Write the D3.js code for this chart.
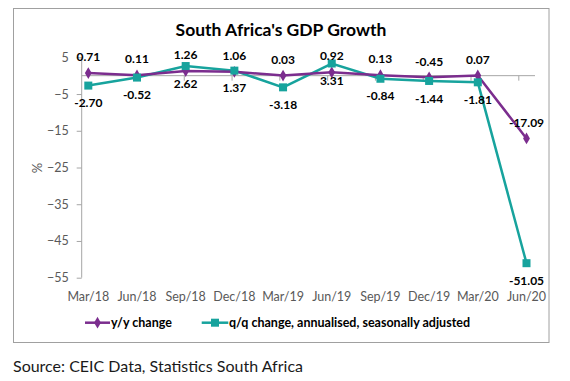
<!DOCTYPE html>
<html><head><meta charset="utf-8">
<script src="https://cdn.jsdelivr.net/npm/d3@7"></script>
<style>
html,body{margin:0;padding:0;background:#fff;}
svg{display:block;font-family:Lato,"Open Sans",sans-serif;}
</style></head>
<body>
<svg id="chart" width="570" height="381"></svg>
<script>
const categories = ["Mar/18","Jun/18","Sep/18","Dec/18","Mar/19","Jun/19","Sep/19","Dec/19","Mar/20","Jun/20"];
const yoyValues = [0.71, 0.11, 1.26, 1.06, 0.03, 0.92, 0.13, -0.45, 0.07, -17.09];
const qoqValues = [-2.70, -0.52, 2.62, 1.37, -3.18, 3.31, -0.84, -1.44, -1.81, -51.05];
const yTicks = [5, -5, -15, -25, -35, -45, -55];
const seriesNames = ["y/y change", "q/q change, annualised, seasonally adjusted"];
const titleText = "South Africa's GDP Growth";
const sourceText = "Source: CEIC Data, Statistics South Africa";

const purple = "#7B2D8E", teal = "#17A39D", axisGray = "#A6A6A6", labelGray = "#595959";
const svg = d3.select("#chart");

// frame
svg.append("rect").attr("x",13.5).attr("y",8.5).attr("width",535.5).attr("height",334)
  .attr("fill","#fff").attr("stroke","#A0A0A0").attr("stroke-width",1);

// title
svg.append("text").attr("x",281).attr("y",36).attr("text-anchor","middle")
  .attr("font-weight","bold").attr("font-size",17.5).attr("fill","#000").text(titleText);

const x = d3.scalePoint().domain(categories).range([88.3, 526.5]);
const y = d3.scaleLinear().domain([-55, 5]).range([277.7, 57.3]);

// y axis
const yAxis = svg.append("g").attr("transform","translate(81.7,0)")
  .call(d3.axisLeft(y).tickValues(yTicks).tickSize(5).tickPadding(8).tickFormat(d3.format("d")));
yAxis.select(".domain").attr("stroke",axisGray).attr("d",`M0,${y(5)}V${y(-55)}`);
yAxis.selectAll(".tick line").attr("stroke",axisGray);
yAxis.selectAll(".tick text").attr("fill",labelGray).attr("font-size",12.5).attr("font-family","Lato");

// x axis at zero
const xAxisG = svg.append("g");
xAxisG.append("line").attr("x1",81.7).attr("x2",535).attr("y1",y(0)).attr("y2",y(0)).attr("stroke",axisGray);
categories.slice(1).forEach((c,i)=>{
  const xx = x(c) - i*0.9 - 0.5;
  xAxisG.append("line").attr("x1",xx).attr("x2",xx).attr("y1",y(0)).attr("y2",y(0)+5).attr("stroke",axisGray);
});
// x tick labels
svg.append("g").selectAll("text").data(categories).join("text")
  .attr("x",d=>x(d)).attr("y",300.5).attr("text-anchor","middle")
  .attr("fill",labelGray).attr("font-size",12.5).text(d=>d);

// y title
svg.append("text").attr("transform","translate(42,168) rotate(-90)").attr("text-anchor","middle")
  .attr("fill",labelGray).attr("font-size",13).text("%");

const line = d3.line().x((d,i)=>x(categories[i])).y(d=>y(d));

// lines
svg.append("path").datum(qoqValues).attr("d",line).attr("fill","none").attr("stroke",teal).attr("stroke-width",2.5);
svg.append("path").datum(yoyValues).attr("d",line).attr("fill","none").attr("stroke",purple).attr("stroke-width",2.5);

// markers
svg.append("g").selectAll("path").data(yoyValues).join("path")
  .attr("d", d3.symbol(d3.symbolDiamond, 40)())
  .attr("transform",(d,i)=>`translate(${x(categories[i])},${y(d)})`)
  .attr("fill",purple);
svg.append("g").selectAll("rect").data(qoqValues).join("rect")
  .attr("x",(d,i)=>x(categories[i])-4).attr("y",d=>y(d)-4).attr("width",8).attr("height",8)
  .attr("fill",teal);

// data labels
svg.append("g").selectAll("text").data(yoyValues).join("text")
  .attr("x",(d,i)=>x(categories[i])).attr("y",d=>y(d)-16).attr("dy","0.35em")
  .attr("text-anchor","middle").attr("font-weight","bold").attr("font-size",12).attr("fill","#000")
  .text(d=>d.toFixed(2));
svg.append("g").selectAll("text").data(qoqValues).join("text")
  .attr("x",(d,i)=>x(categories[i])).attr("y",d=>y(d)+17.5).attr("dy","0.35em")
  .attr("text-anchor","middle").attr("font-weight","bold").attr("font-size",12).attr("fill","#000")
  .text(d=>d.toFixed(2));

// legend
const lg = svg.append("g");
lg.append("line").attr("x1",85).attr("x2",110).attr("y1",322.7).attr("y2",322.7).attr("stroke",purple).attr("stroke-width",2.5);
lg.append("path").attr("d",d3.symbol(d3.symbolDiamond,40)()).attr("transform","translate(97.5,322.7)").attr("fill",purple);
lg.append("text").attr("x",111).attr("y",322.7).attr("dy","0.35em").attr("font-weight","bold").attr("font-size",12.5).attr("fill","#000").text(seriesNames[0]);
lg.append("line").attr("x1",201.7).attr("x2",228.3).attr("y1",322.7).attr("y2",322.7).attr("stroke",teal).attr("stroke-width",2.5);
lg.append("rect").attr("x",211).attr("y",318.7).attr("width",8).attr("height",8).attr("fill",teal);
lg.append("text").attr("x",229).attr("y",322.7).attr("dy","0.35em").attr("font-weight","bold").attr("font-size",12.5).attr("fill","#000").text(seriesNames[1]);

// source
svg.append("text").attr("x",13).attr("y",372).attr("font-size",16).attr("fill","#1a1a1a").text(sourceText);
</script>
</body></html>
